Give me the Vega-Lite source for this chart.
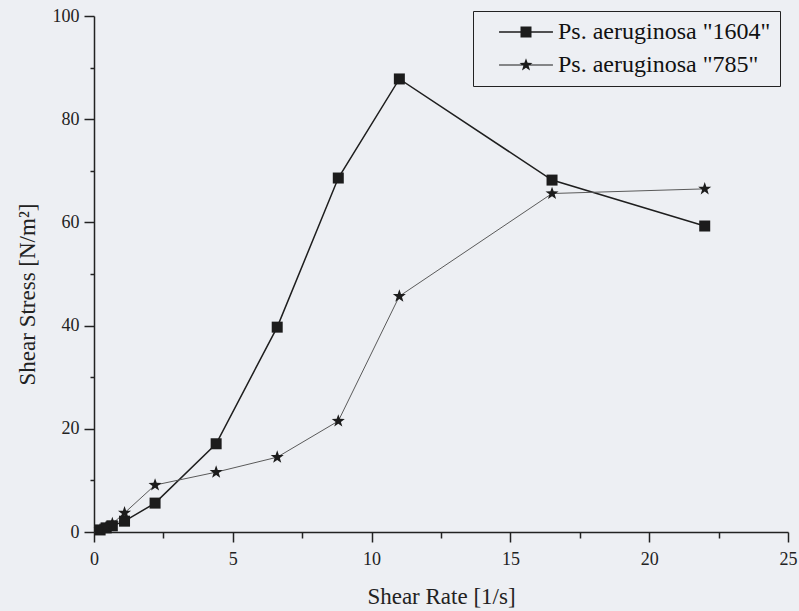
{
  "$schema": "https://vega.github.io/schema/vega-lite/v6.json",
  "width": 694,
  "height": 516,
  "autosize": {"type": "none"},
  "padding": {"left": 94, "top": 16, "right": 11, "bottom": 79},
  "background": "#edeff3",
  "config": {"font": "Liberation Serif", "view": {"stroke": null}},
  "data": {
    "values": [
      {"strain": "Ps. aeruginosa \"1604\"", "rate": 0.22, "stress": 0.4},
      {"strain": "Ps. aeruginosa \"1604\"", "rate": 0.44, "stress": 0.8},
      {"strain": "Ps. aeruginosa \"1604\"", "rate": 0.66, "stress": 1.2},
      {"strain": "Ps. aeruginosa \"1604\"", "rate": 1.1, "stress": 2.1},
      {"strain": "Ps. aeruginosa \"1604\"", "rate": 2.2, "stress": 5.6},
      {"strain": "Ps. aeruginosa \"1604\"", "rate": 4.4, "stress": 17.1},
      {"strain": "Ps. aeruginosa \"1604\"", "rate": 6.6, "stress": 39.7},
      {"strain": "Ps. aeruginosa \"1604\"", "rate": 8.8, "stress": 68.6},
      {"strain": "Ps. aeruginosa \"1604\"", "rate": 11, "stress": 87.8},
      {"strain": "Ps. aeruginosa \"1604\"", "rate": 16.5, "stress": 68.2},
      {"strain": "Ps. aeruginosa \"1604\"", "rate": 22, "stress": 59.3},
      {"strain": "Ps. aeruginosa \"785\"", "rate": 0.22, "stress": 0.5},
      {"strain": "Ps. aeruginosa \"785\"", "rate": 0.44, "stress": 1.0},
      {"strain": "Ps. aeruginosa \"785\"", "rate": 0.66, "stress": 1.6},
      {"strain": "Ps. aeruginosa \"785\"", "rate": 1.1, "stress": 3.7},
      {"strain": "Ps. aeruginosa \"785\"", "rate": 2.2, "stress": 9.1},
      {"strain": "Ps. aeruginosa \"785\"", "rate": 4.4, "stress": 11.6},
      {"strain": "Ps. aeruginosa \"785\"", "rate": 6.6, "stress": 14.5},
      {"strain": "Ps. aeruginosa \"785\"", "rate": 8.8, "stress": 21.5},
      {"strain": "Ps. aeruginosa \"785\"", "rate": 11, "stress": 45.7},
      {"strain": "Ps. aeruginosa \"785\"", "rate": 16.5, "stress": 65.6},
      {"strain": "Ps. aeruginosa \"785\"", "rate": 22, "stress": 66.5}
    ]
  },
  "layer": [
    {
      "transform": [{"filter": "indexof(datum.strain, '1604') >= 0"}],
      "mark": {"type": "line", "color": "#1e1e1e", "strokeWidth": 1.5},
      "encoding": {
        "x": {
          "field": "rate", "type": "quantitative",
          "scale": {"domain": [0, 25], "nice": false, "zero": false},
          "axis": {
            "values": [0, 5, 10, 15, 20, 25], "grid": false,
            "tickSize": 10, "tickWidth": 1.5, "tickColor": "#222",
            "domainColor": "#222", "domainWidth": 1.5,
            "labelFont": "Liberation Serif", "labelFontSize": 18, "labelColor": "#222",
            "labelPadding": 8, "labelFlush": false, "labelOverlap": false,
            "title": "Shear Rate [1/s]", "titleFont": "Liberation Serif",
            "titleFontSize": 23, "titleFontWeight": "normal", "titleColor": "#222",
            "titleY": 71, "titleBaseline": "alphabetic"
          }
        },
        "y": {
          "field": "stress", "type": "quantitative",
          "scale": {"domain": [0, 100], "nice": false},
          "axis": {
            "values": [0, 20, 40, 60, 80, 100], "grid": false,
            "tickSize": 10, "tickWidth": 1.5, "tickColor": "#222",
            "domainColor": "#222", "domainWidth": 1.5,
            "labelFont": "Liberation Serif", "labelFontSize": 18, "labelColor": "#222",
            "labelPadding": 5, "labelFlush": false, "labelOverlap": false,
            "title": "Shear Stress [N/m²]", "titleFont": "Liberation Serif",
            "titleFontSize": 23, "titleFontWeight": "normal", "titleColor": "#222",
            "titleX": -60, "titleY": 278, "titleAngle": -90,
            "titleBaseline": "alphabetic", "titleAlign": "center"
          }
        }
      }
    },
    {
      "transform": [{"filter": "indexof(datum.strain, '785') >= 0"}],
      "mark": {"type": "line", "color": "#5a5a5a", "strokeWidth": 1},
      "encoding": {
        "x": {"field": "rate", "type": "quantitative", "axis": null},
        "y": {"field": "stress", "type": "quantitative", "axis": null}
      }
    },
    {
      "mark": {"type": "point", "filled": true, "opacity": 1, "color": "#1c1c1c", "size": 121},
      "encoding": {
        "x": {
          "field": "rate", "type": "quantitative",
          "axis": {
            "orient": "bottom", "values": [2.5, 7.5, 12.5, 17.5, 22.5],
            "labels": false, "domain": false, "grid": false, "title": null,
            "tickSize": 6, "tickWidth": 1.5, "tickColor": "#222"
          }
        },
        "y": {
          "field": "stress", "type": "quantitative",
          "axis": {
            "orient": "left", "values": [10, 30, 50, 70, 90],
            "labels": false, "domain": false, "grid": false, "title": null,
            "tickSize": 4, "tickWidth": 1.5, "tickColor": "#222"
          }
        },
        "shape": {
          "field": "strain", "type": "nominal",
          "scale": {"range": ["square", "M0,-1.25L0.294,-0.405L1.189,-0.386L0.476,0.155L0.735,1.011L0,0.5L-0.735,1.011L-0.476,0.155L-1.189,-0.386L-0.294,-0.405Z"]},
          "legend": null
        }
      }
    },
    {
      "mark": {"type": "point", "filled": true, "opacity": 0, "color": "#1c1c1c", "size": 121},
      "encoding": {
        "x": {"field": "rate", "type": "quantitative", "axis": null},
        "y": {"field": "stress", "type": "quantitative", "axis": null},
        "shape": {
          "field": "strain", "type": "nominal",
          "scale": {"range": ["M-4.9,-0.13H4.9V0.13H-4.9ZM-1,-1H1V1H-1Z", "M-4.9,-0.09H4.9V0.09H-4.9ZM0,-1.25L0.294,-0.405L1.189,-0.386L0.476,0.155L0.735,1.011L0,0.5L-0.735,1.011L-0.476,0.155L-1.189,-0.386L-0.294,-0.405Z"]},
          "legend": {
            "title": null, "orient": "none", "legendX": 379, "legendY": -5,
            "padding": 9, "strokeColor": "#222", "rowPadding": 9,
            "labelFont": "Liberation Serif", "labelFontSize": 24, "labelColor": "#111",
            "labelLimit": 400, "labelOffset": 20, "symbolOffset": 32, "symbolSize": 121,
            "symbolOpacity": 1, "symbolFillColor": "#1c1c1c"
          }
        }
      }
    }
  ],
  "resolve": {
    "axis": {"x": "independent", "y": "independent"},
    "scale": {"shape": "independent"},
    "legend": {"shape": "independent"}
  }
}
